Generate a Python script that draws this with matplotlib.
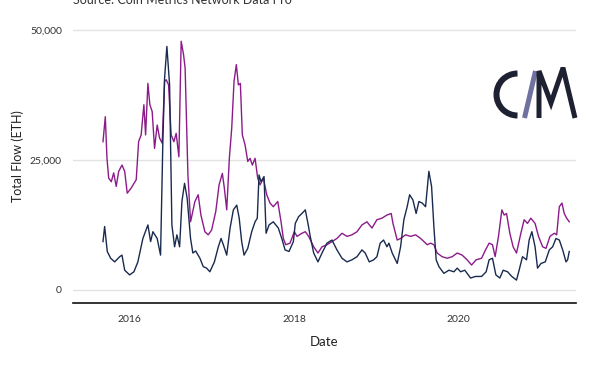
import numpy as np
import pandas as pd
import matplotlib
matplotlib.use("Agg")
import matplotlib.dates as mdates
from matplotlib import pyplot as plt
from matplotlib.patches import Arc
from matplotlib.ticker import FuncFormatter

# values (decimal year, thousands of ETH)
purple_years = [
    2015.672, 2015.700, 2015.720, 2015.741, 2015.773, 2015.802, 2015.833, 2015.863,
    2015.903, 2015.936, 2015.967, 2016.016, 2016.077, 2016.106, 2016.137, 2016.170,
    2016.191, 2016.219, 2016.243, 2016.271, 2016.300, 2016.332, 2016.361, 2016.393,
    2016.422, 2016.442, 2016.471, 2016.502, 2016.535, 2016.563, 2016.596, 2016.624,
    2016.653, 2016.672, 2016.706, 2016.738, 2016.791, 2016.831, 2016.864, 2016.912,
    2016.953, 2016.994, 2017.043, 2017.083, 2017.123, 2017.147, 2017.176, 2017.208,
    2017.237, 2017.265, 2017.293, 2017.318, 2017.342, 2017.366, 2017.399, 2017.432,
    2017.460, 2017.488, 2017.521, 2017.553, 2017.582, 2017.622, 2017.663, 2017.703,
    2017.743, 2017.797, 2017.837, 2017.865, 2017.894, 2017.946, 2017.999, 2018.032,
    2018.092, 2018.133, 2018.174, 2018.235, 2018.287, 2018.336, 2018.397, 2018.457,
    2018.518, 2018.579, 2018.640, 2018.701, 2018.762, 2018.822, 2018.883, 2018.944,
    2019.005, 2019.066, 2019.127, 2019.179, 2019.200, 2019.252, 2019.293, 2019.354,
    2019.415, 2019.476, 2019.537, 2019.577, 2019.617, 2019.658, 2019.698, 2019.738,
    2019.799, 2019.860, 2019.921, 2019.982, 2020.043, 2020.103, 2020.157, 2020.213,
    2020.279, 2020.327, 2020.371, 2020.412, 2020.444, 2020.485, 2020.526, 2020.554,
    2020.583, 2020.623, 2020.663, 2020.704, 2020.757, 2020.797, 2020.838, 2020.878,
    2020.930, 2020.972, 2021.020, 2021.061, 2021.109, 2021.162, 2021.191, 2021.223,
    2021.255, 2021.283, 2021.312, 2021.344,
]
purple_flow = [
    28.5, 33.3, 25.4, 21.5, 20.8, 22.5, 19.9, 22.8,
    24.0, 22.8, 18.6, 19.6, 21.2, 28.5, 29.8, 35.6,
    29.8, 39.7, 35.6, 34.3, 27.2, 31.7, 29.2, 28.2,
    40.1, 40.4, 39.4, 29.8, 28.5, 30.1, 25.6, 47.8,
    45.2, 42.6, 22.1, 13.1, 17.0, 18.3, 14.4, 11.2,
    10.6, 11.5, 15.1, 20.2, 22.4, 19.6, 15.4, 25.3,
    31.1, 40.1, 43.3, 39.4, 39.7, 29.8, 27.9, 24.7,
    25.3, 24.0, 25.3, 21.5, 20.2, 21.5, 18.3, 16.7,
    16.0, 17.0, 13.1, 9.9, 8.7, 9.0, 11.2, 10.3,
    10.9, 11.2, 10.3, 8.3, 7.1, 8.3, 8.7, 9.3,
    9.9, 10.9, 10.3, 10.6, 11.2, 12.5, 13.1, 11.9,
    13.5, 13.8, 14.4, 14.7, 12.8, 9.6, 9.9, 10.6,
    10.3, 10.6, 9.9, 9.3, 8.7, 9.0, 8.7, 7.1,
    6.4, 6.1, 6.4, 7.1, 6.7, 5.8, 4.8, 5.8,
    6.1, 7.7, 9.0, 8.7, 6.4, 10.3, 15.4, 14.4,
    14.7, 10.9, 8.3, 7.1, 10.9, 13.5, 12.8, 13.8,
    12.8, 10.3, 8.3, 8.0, 10.3, 10.9, 10.6, 16.0,
    16.7, 14.7, 13.8, 13.1,
]

navy_years = [
    2015.672, 2015.692, 2015.724, 2015.765, 2015.814, 2015.875, 2015.903, 2015.936,
    2015.996, 2016.049, 2016.097, 2016.158, 2016.219, 2016.252, 2016.280, 2016.332,
    2016.373, 2016.401, 2016.422, 2016.450, 2016.483, 2016.511, 2016.544, 2016.572,
    2016.605, 2016.633, 2016.665, 2016.697, 2016.738, 2016.766, 2016.800, 2016.852,
    2016.892, 2016.933, 2016.973, 2017.026, 2017.074, 2017.107, 2017.135, 2017.176,
    2017.217, 2017.257, 2017.298, 2017.328, 2017.358, 2017.387, 2017.432, 2017.480,
    2017.521, 2017.548, 2017.569, 2017.594, 2017.630, 2017.655, 2017.691, 2017.743,
    2017.804, 2017.846, 2017.886, 2017.934, 2017.987, 2018.011, 2018.052, 2018.092,
    2018.133, 2018.165, 2018.193, 2018.235, 2018.287, 2018.336, 2018.397, 2018.457,
    2018.518, 2018.579, 2018.640, 2018.701, 2018.762, 2018.822, 2018.862, 2018.911,
    2018.965, 2019.005, 2019.045, 2019.086, 2019.127, 2019.151, 2019.191, 2019.252,
    2019.293, 2019.333, 2019.373, 2019.403, 2019.443, 2019.482, 2019.516, 2019.556,
    2019.597, 2019.637, 2019.670, 2019.698, 2019.726, 2019.759, 2019.820, 2019.881,
    2019.942, 2019.982, 2020.024, 2020.075, 2020.145, 2020.205, 2020.279, 2020.335,
    2020.371, 2020.412, 2020.453, 2020.501, 2020.542, 2020.595, 2020.647, 2020.704,
    2020.736, 2020.777, 2020.826, 2020.858, 2020.891, 2020.930, 2020.960, 2021.000,
    2021.052, 2021.101, 2021.142, 2021.182, 2021.223, 2021.264, 2021.304, 2021.324,
    2021.344,
]
navy_flow = [
    9.3, 12.2, 7.4, 6.1, 5.4, 6.4, 6.7, 3.8,
    2.9, 3.5, 5.4, 9.9, 12.5, 9.3, 11.2, 9.9,
    6.7, 28.5, 40.7, 46.8, 39.4, 12.5, 8.3, 10.6,
    8.3, 17.0, 20.5, 17.6, 9.9, 7.1, 7.5, 6.1,
    4.5, 4.2, 3.5, 5.4, 8.3, 9.9, 8.7, 6.7,
    11.9, 15.4, 16.3, 13.8, 9.3, 6.7, 8.0, 11.2,
    13.1, 13.8, 22.1, 20.8, 21.8, 10.9, 12.5, 13.1,
    11.9, 9.9, 7.7, 7.4, 9.3, 12.8, 14.1, 14.7,
    15.4, 12.8, 10.3, 7.1, 5.4, 7.1, 9.0, 9.6,
    7.7, 6.1, 5.4, 5.8, 6.4, 7.7, 7.1, 5.4,
    5.8, 6.4, 9.0, 9.6, 8.3, 9.0, 7.1, 5.1,
    8.3, 13.5, 16.0, 18.3, 17.3, 14.7, 17.0, 16.7,
    16.0, 22.8, 19.9, 12.2, 5.8, 4.5, 3.2, 3.8,
    3.5, 4.2, 3.5, 3.8, 2.3, 2.6, 2.6, 3.5,
    5.8, 6.1, 2.9, 2.3, 3.8, 3.5, 2.6, 1.9,
    3.8, 6.4, 5.8, 9.6, 11.2, 8.3, 4.2, 5.1,
    5.4, 7.7, 8.3, 9.9, 9.6, 7.7, 5.4, 5.8,
    7.4,
]

y_ticks = [0, 25000, 50000]
x_tick_years = [2016, 2018, 2020]

PURPLE = "#8c1b8a"
NAVY = "#1a2a4f"


def to_dates(years):
    out = []
    for y in years:
        whole = int(np.floor(y))
        out.append(pd.Timestamp(year=whole, month=1, day=1)
                   + pd.Timedelta(days=(y - whole) * 365.25))
    return out


plt.rcParams["font.family"] = ["Lato", "DejaVu Sans"]

fig = plt.figure(figsize=(6, 3.68), dpi=100)
ax = fig.add_axes([73 / 600, 1 - 303 / 368, 503 / 600, 293 / 368])

ax.plot(to_dates(purple_years), np.array(purple_flow) * 1000, color=PURPLE, lw=1.0)
ax.plot(to_dates(navy_years), np.array(navy_flow) * 1000, color=NAVY, lw=1.0)

ax.set_xlim(to_dates([2015.307])[0], to_dates([2021.426])[0])
ax.set_ylim(-2500, 53800)

ax.set_yticks(y_ticks)
ax.yaxis.set_major_formatter(FuncFormatter(lambda v, p: f"{int(v):,}"))
ax.set_xticks([pd.Timestamp(year=y, month=1, day=1) for y in x_tick_years])
ax.xaxis.set_major_formatter(mdates.DateFormatter("%Y"))

ax.grid(axis="y", color="#e3e3e3", lw=1.0)
ax.set_axisbelow(True)
for side in ["top", "right", "left"]:
    ax.spines[side].set_visible(False)
ax.spines["bottom"].set_color("#111111")
ax.spines["bottom"].set_linewidth(1.2)
ax.tick_params(length=0, labelsize=7.5, colors="#333333")
ax.tick_params(axis="x", pad=9)
ax.tick_params(axis="y", pad=8)

ax.set_xlabel("Date", fontsize=9.5, color="#222222", labelpad=8)
ax.set_ylabel("Total Flow (ETH)", fontsize=9, color="#222222", labelpad=4)

# the source line sits partly above the top edge, as in the reference
fig.text(73 / 600, 1 - 4 / 368, "Source: Coin Metrics Network Data Pro",
         fontsize=9, color="#333333", va="baseline", ha="left")

# Coin Metrics logo, drawn in pixel-like coordinates
logo = fig.add_axes([490 / 600, 1 - 122 / 368, 90 / 600, 55 / 368])
logo.set_xlim(490, 580)
logo.set_ylim(122, 67)
logo.axis("off")
px = 72 / 100
logo.add_patch(Arc((517.5, 94.5), 42, 42, theta1=90, theta2=270,
                   color="#1e2131", lw=6 * px))
logo.plot([524.5, 535.5], [118, 71], color="#6f719e", lw=5 * px,
          solid_capstyle="butt")
logo.plot([539, 539, 551, 563, 575], [118, 71, 103, 68, 118], color="#1e2131",
          lw=5 * px, solid_capstyle="butt", solid_joinstyle="miter")

fig.savefig("out.png", dpi=100)
